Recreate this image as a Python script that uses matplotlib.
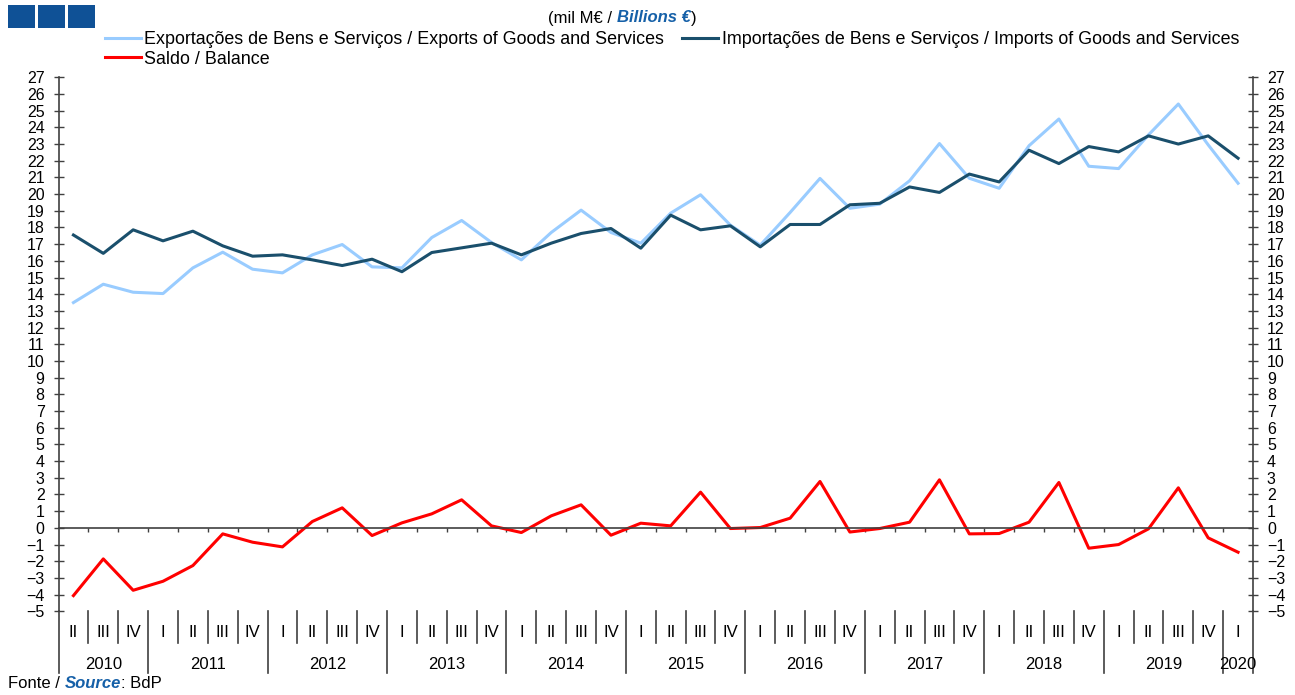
import numpy as np
import matplotlib.pyplot as plt
import matplotlib.transforms as mtransforms
from matplotlib.patches import Rectangle

plt.rcParams['font.family'] = ['Liberation Sans', 'DejaVu Sans']

# periodos: 2010 T2 ate 2020 T1
quarters = ['II', 'III', 'IV'] + ['I', 'II', 'III', 'IV'] * 9 + ['I']
years = ['2010', '2011', '2012', '2013', '2014', '2015', '2016', '2017', '2018', '2019', '2020']
year_quarters = [3, 4, 4, 4, 4, 4, 4, 4, 4, 4, 1]

exports = [13.5, 14.6, 14.12, 14.04, 15.58, 16.52, 15.5, 15.28, 16.36, 16.98,
           15.64, 15.58, 17.4, 18.42, 17.1, 16.06, 17.7, 19.04, 17.7, 17.06,
           18.86, 19.96, 18.14, 16.94, 18.9, 20.94, 19.15, 19.4, 20.8, 23.03,
           20.95, 20.35, 22.9, 24.5, 21.67, 21.53, 23.55, 25.4, 22.95, 20.65]
imports = [17.55, 16.45, 17.86, 17.2, 17.78, 16.9, 16.28, 16.36, 16.06, 15.72,
           16.1, 15.35, 16.5, 16.78, 17.06, 16.36, 17.06, 17.64, 17.94, 16.76,
           18.74, 17.86, 18.1, 16.84, 18.18, 18.18, 19.36, 19.45, 20.43, 20.1,
           21.2, 20.73, 22.63, 21.83, 22.85, 22.53, 23.49, 23.0, 23.49, 22.15]
balance = [-4.06, -1.86, -3.74, -3.2, -2.26, -0.36, -0.86, -1.14, 0.38, 1.2,
           -0.46, 0.3, 0.84, 1.68, 0.12, -0.28, 0.72, 1.38, -0.44, 0.28,
           0.12, 2.14, -0.04, 0.02, 0.58, 2.78, -0.25, -0.04, 0.34, 2.88,
           -0.36, -0.34, 0.34, 2.72, -1.22, -1.0, -0.06, 2.4, -0.6, -1.46]

W, H = 1295, 695
fig = plt.figure(figsize=(W / 100, H / 100), dpi=100)
ax = fig.add_axes([58.5 / W, (H - 611.3) / H, (1253 - 58.5) / W, (611.3 - 77.3) / H])

x = np.arange(len(quarters))
l_exp, = ax.plot(x, exports, color='#99ccff', lw=2.2,
                 label='Exportações de Bens e Serviços / Exports of Goods and Services')
l_imp, = ax.plot(x, imports, color='#1a4f6c', lw=2.2,
                 label='Importações de Bens e Serviços / Imports of Goods and Services')
l_bal, = ax.plot(x, balance, color='#ff0000', lw=2.2, label='Saldo / Balance')

ax.set_xlim(-0.5, len(quarters) - 0.5)
ax.set_ylim(-5, 27)
ax.set_yticks(range(-5, 28))

axc = '#404040'
ax.spines['top'].set_visible(False)
ax.spines['bottom'].set_position(('data', 0))
for s in ['left', 'right', 'bottom']:
    ax.spines[s].set_color(axc)
    ax.spines[s].set_linewidth(1.2)
ax.set_xticks(x[:-1] + 0.5)
ax.tick_params(axis='x', direction='out', length=3, width=1, color=axc, labelbottom=False)
ax.tick_params(axis='y', direction='inout', length=7, width=1, color=axc, labelsize=11.5,
               left=True, right=True, labelleft=True, labelright=True, pad=6.5)

# eixo de categorias (trimestres / anos)
trans = mtransforms.blended_transform_factory(ax.transData, ax.transAxes)
for i in range(len(quarters) - 1):
    b = i + 0.5
    low = -0.116 if quarters[i + 1] == 'I' else -0.06
    ax.plot([b, b], [0, low], transform=trans, clip_on=False, color=axc, lw=1.2)
for b in [-0.5, len(quarters) - 0.5]:
    ax.plot([b, b], [0, -0.116], transform=trans, clip_on=False, color=axc, lw=1.2)
for i, q in enumerate(quarters):
    ax.text(i, -0.0406, q, transform=trans, ha='center', va='center', fontsize=12)
start = 0
for y, n in zip(years, year_quarters):
    ax.text(start + (n - 1) / 2, -0.1, y, transform=trans, ha='center', va='center', fontsize=12)
    start += n

# legenda
fig.legend([l_exp, l_bal, l_imp], [l_exp.get_label(), l_bal.get_label(), l_imp.get_label()],
           ncol=2, loc='upper left', bbox_to_anchor=(105 / W, 1 - 31 / H), frameon=False,
           fontsize=12.9, handlelength=2.0, handletextpad=0.2, columnspacing=1.0,
           labelspacing=0.15, borderpad=0, borderaxespad=0)

# titulo
blue = '#1560a8'
t1 = fig.text(548 / W, 1 - 18 / H, '(mil M€ / ', fontsize=12, va='center', ha='left')
t2 = ax.annotate('Billions €', xy=(1, 0), xycoords=t1, va='bottom', ha='left',
                 fontsize=12, fontweight='bold', fontstyle='italic', color=blue)
ax.annotate(')', xy=(1, 0), xycoords=t2, va='bottom', ha='left', fontsize=12)

# fonte
f1 = fig.text(8 / W, 1 - 684 / H, 'Fonte / ', fontsize=12, va='center', ha='left')
f2 = ax.annotate('Source', xy=(1, 0), xycoords=f1, va='bottom', ha='left',
                 fontsize=12, fontweight='bold', fontstyle='italic', color=blue)
ax.annotate(': BdP', xy=(1, 0), xycoords=f2, va='bottom', ha='left', fontsize=12)

# logotipo
for x0 in [8, 38, 68]:
    fig.add_artist(Rectangle((x0 / W, 1 - 28 / H), 27 / W, 23 / H,
                             transform=fig.transFigure, color='#0f5196', lw=0))

fig.savefig('out.png', dpi=100)
